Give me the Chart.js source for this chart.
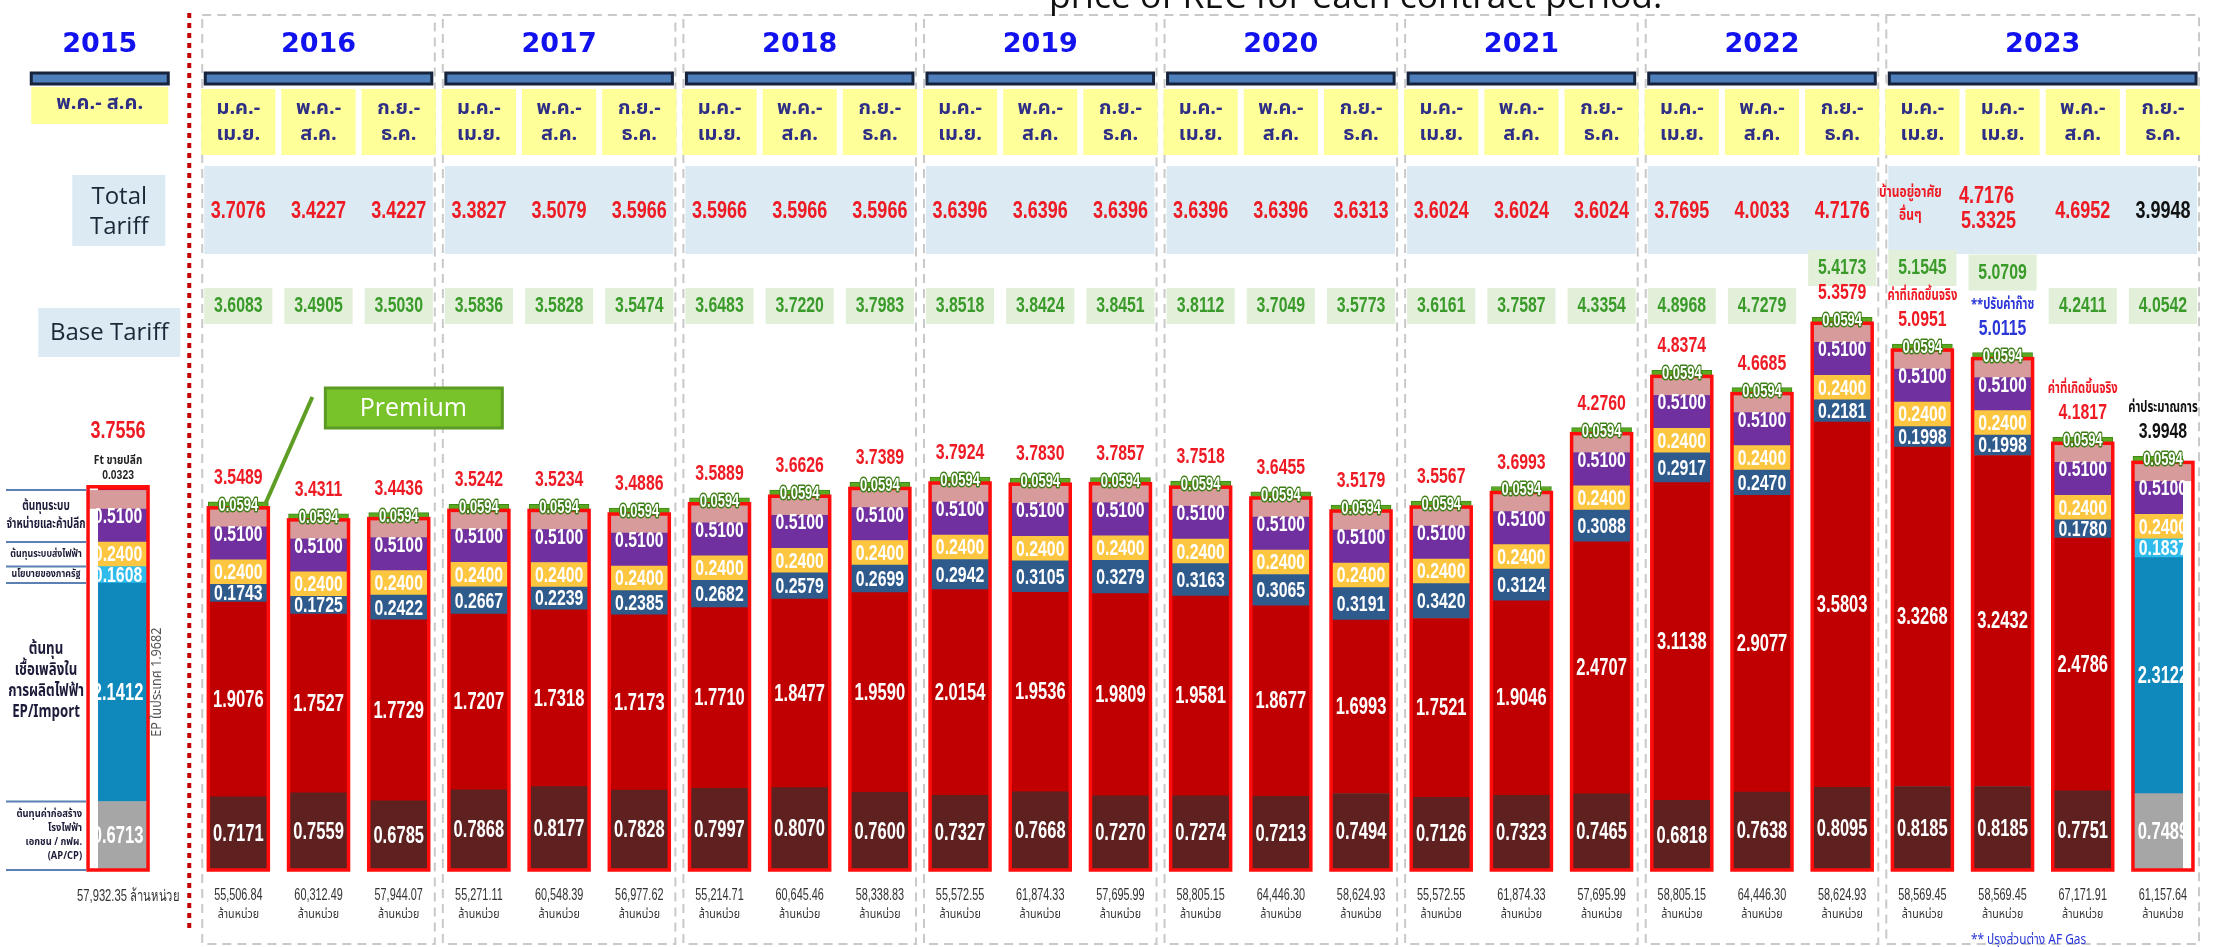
<!DOCTYPE html>
<html>
<head>
<meta charset="utf-8">
<script src="https://cdn.jsdelivr.net/npm/chart.js@4.4.0/dist/chart.umd.min.js"></script>
<style>
  html, body { margin: 0; padding: 0; background: #fff; }
  #wrap { width: 2234px; height: 947px; }
</style>
</head>
<body>
<div id="wrap"><canvas id="tariffChart" width="2234" height="947"></canvas></div>
<script>
// one entry per contract period (bar)
const years = ['2015', '2016', '2016', '2016', '2017', '2017', '2017', '2018', '2018', '2018',
  '2019', '2019', '2019', '2020', '2020', '2020', '2021', '2021', '2021', '2022', '2022', '2022',
  '2023', '2023', '2023', '2023'];
const periods = ['พ.ค.- ส.ค.',
  'ม.ค.-|เม.ย.', 'พ.ค.-|ส.ค.', 'ก.ย.-|ธ.ค.', 'ม.ค.-|เม.ย.', 'พ.ค.-|ส.ค.', 'ก.ย.-|ธ.ค.',
  'ม.ค.-|เม.ย.', 'พ.ค.-|ส.ค.', 'ก.ย.-|ธ.ค.', 'ม.ค.-|เม.ย.', 'พ.ค.-|ส.ค.', 'ก.ย.-|ธ.ค.',
  'ม.ค.-|เม.ย.', 'พ.ค.-|ส.ค.', 'ก.ย.-|ธ.ค.', 'ม.ค.-|เม.ย.', 'พ.ค.-|ส.ค.', 'ก.ย.-|ธ.ค.',
  'ม.ค.-|เม.ย.', 'พ.ค.-|ส.ค.', 'ก.ย.-|ธ.ค.', 'ม.ค.-|เม.ย.', 'ม.ค.-|เม.ย.', 'พ.ค.-|ส.ค.', 'ก.ย.-|ธ.ค.'];

const totalTariff = ['', '3.7076', '3.4227', '3.4227', '3.3827', '3.5079', '3.5966', '3.5966', '3.5966', '3.5966',
  '3.6396', '3.6396', '3.6396', '3.6396', '3.6396', '3.6313', '3.6024', '3.6024', '3.6024',
  '3.7695', '4.0033', '4.7176', 'บ้านอยู่อาศัย|อื่นๆ', '4.7176|5.3325', '4.6952', '3.9948'];
const baseTariff = ['', '3.6083', '3.4905', '3.5030', '3.5836', '3.5828', '3.5474', '3.6483', '3.7220', '3.7983',
  '3.8518', '3.8424', '3.8451', '3.8112', '3.7049', '3.5773', '3.6161', '3.7587', '4.3354',
  '4.8968', '4.7279', '5.4173', '5.1545', '5.0709', '4.2411', '4.0542'];
const barTotals = ['3.7556', '3.5489', '3.4311', '3.4436', '3.5242', '3.5234', '3.4886', '3.5889', '3.6626', '3.7389',
  '3.7924', '3.7830', '3.7857', '3.7518', '3.6455', '3.5179', '3.5567', '3.6993', '4.2760',
  '4.8374', '4.6685', '5.3579', '5.0951', '5.0115', '4.1817', '3.9948'];

// cost components (baht/unit), bottom to top
const apcp = [0.6713, 0.7171, 0.7559, 0.6785, 0.7868, 0.8177, 0.7828, 0.7997, 0.8070, 0.7600,
  0.7327, 0.7668, 0.7270, 0.7274, 0.7213, 0.7494, 0.7126, 0.7323, 0.7465,
  0.6818, 0.7638, 0.8095, 0.8185, 0.8185, 0.7751, 0.7489];
const fuel = [2.1412, 1.9076, 1.7527, 1.7729, 1.7207, 1.7318, 1.7173, 1.7710, 1.8477, 1.9590,
  2.0154, 1.9536, 1.9809, 1.9581, 1.8677, 1.6993, 1.7521, 1.9046, 2.4707,
  3.1138, 2.9077, 3.5803, 3.3268, 3.2432, 2.4786, 2.3122];
const policy = [0.1608, 0.1743, 0.1725, 0.2422, 0.2667, 0.2239, 0.2385, 0.2682, 0.2579, 0.2699,
  0.2942, 0.3105, 0.3279, 0.3163, 0.3065, 0.3191, 0.3420, 0.3124, 0.3088,
  0.2917, 0.2470, 0.2181, 0.1998, 0.1998, 0.1780, 0.1837];
const transmission = [0.24, 0.24, 0.24, 0.24, 0.24, 0.24, 0.24, 0.24, 0.24, 0.24, 0.24, 0.24, 0.24,
  0.24, 0.24, 0.24, 0.24, 0.24, 0.24, 0.24, 0.24, 0.24, 0.24, 0.24, 0.24, 0.24];
const distribution = [0.51, 0.51, 0.51, 0.51, 0.51, 0.51, 0.51, 0.51, 0.51, 0.51, 0.51, 0.51, 0.51,
  0.51, 0.51, 0.51, 0.51, 0.51, 0.51, 0.51, 0.51, 0.51, 0.51, 0.51, 0.51, 0.51];
const ftRetail = [0.0323, null, null, null, null, null, null, null, null, null, null, null, null,
  null, null, null, null, null, null, null, null, null, null, null, null, null];
const premium = [null, 0.0594, 0.0594, 0.0594, 0.0594, 0.0594, 0.0594, 0.0594, 0.0594, 0.0594,
  0.0594, 0.0594, 0.0594, 0.0594, 0.0594, 0.0594, 0.0594, 0.0594, 0.0594,
  0.0594, 0.0594, 0.0594, 0.0594, 0.0594, 0.0594, 0.0594];

const energyUnits = ['57,932.35', '55,506.84', '60,312.49', '57,944.07', '55,271.11', '60,548.39', '56,977.62',
  '55,214.71', '60,645.46', '58,338.83', '55,572.55', '61,874.33', '57,695.99',
  '58,805.15', '64,446.30', '58,624.93', '55,572.55', '61,874.33', '57,695.99',
  '58,805.15', '64,446.30', '58,624.93', '58,569.45', '58,569.45', '67,171.91', '61,157.64'];
const notesAbove = ['', '', '', '', '', '', '', '', '', '', '', '', '', '', '', '', '', '', '', '', '', '',
  'ค่าที่เกิดขึ้นจริง', '**ปรับค่าก๊าซ', 'ค่าที่เกิดขึ้นจริง', 'ค่าประมาณการ'];

const N = years.length;
const NUM = '"Liberation Sans", Arial, sans-serif';
const THAI = '"Noto Sans Thai", "Noto Sans Thai Looped", Loma, Garuda, Tahoma, "DejaVu Sans", sans-serif';
const SANS = '"Open Sans", "Noto Sans", sans-serif';

// category slots: 2015 stands apart (1.5 bar spacings), other periods every 2 half-slots
const slotOf = years.map((y, i) => i === 0 ? 0 : 2 * i + 1);
const nSlots = slotOf[N - 1] + 1;
const expand = arr => {
  const out = new Array(nSlots).fill(null);
  arr.forEach((v, i) => { out[slotOf[i]] = v; });
  return out;
};

// the 2015 bar and the 2023 estimate show the import/EP colour scheme
const importBar = i => i === 0 || i === N - 1;

function txt(ctx, s, x, y, font, color, align, sx, stroke) {
  ctx.save();
  ctx.font = font;
  ctx.textAlign = align || 'center';
  ctx.textBaseline = 'middle';
  ctx.translate(x, y);
  ctx.scale(sx || 1, 1);
  if (stroke) {
    ctx.lineWidth = 3;
    ctx.strokeStyle = stroke;
    ctx.lineJoin = 'round';
    ctx.strokeText(s, 0, 0);
  }
  ctx.fillStyle = color;
  ctx.fillText(s, 0, 0);
  ctx.restore();
}

function yearGroups() {
  const g = [];
  years.forEach((y, i) => {
    if (!g.length || g[g.length - 1].year !== y) g.push({ year: y, first: i, last: i });
    else g[g.length - 1].last = i;
  });
  return g;
}

const props = (chart, ds, i) => chart.getDatasetMeta(ds).data[slotOf[i]].getProps(['x', 'y', 'base', 'width'], true);
const colorFor = i => i === 23 ? '#2a36d8' : (i === 25 ? '#111111' : '#ee1b24');

function barTop(chart, i) {
  return i === 0 ? props(chart, 5, 0).y : props(chart, 6, i).y;
}

function layoutInfo(chart) {
  const sc = chart.scales.x;
  const cx = i => sc.getPixelForValue(slotOf[i]);
  const slot = cx(2) - cx(1);
  const groups = yearGroups();
  groups.forEach(g => {
    g.left = cx(g.first) - slot * 0.45;
    g.right = cx(g.last) + slot * 0.45;
  });
  const divider = groups[1].left - 13;
  groups[0].right = divider - 18;
  groups[0].left = groups[0].right - 143;
  return { cx, slot, groups, divider };
}

const backdrop = {
  id: 'backdrop',
  beforeDatasetsDraw(chart) {
    const ctx = chart.ctx;
    const { cx, slot, groups, divider } = layoutInfo(chart);
    ctx.save();

    groups.forEach(g => {
      const left = g.left, right = g.right;
      if (g.year !== '2015') {
        ctx.setLineDash([9, 6]);
        ctx.strokeStyle = '#c9c9c9';
        ctx.lineWidth = 2;
        ctx.strokeRect(left, 15, right - left, 929);
        ctx.setLineDash([]);
        ctx.fillStyle = '#dbeaf3';
        ctx.fillRect(left + 2, 166, right - left - 4, 88);
      }
      ctx.fillStyle = '#4f7fba';
      ctx.fillRect(left + 3, 73, right - left - 6, 11);
      ctx.strokeStyle = '#16233d';
      ctx.lineWidth = 3;
      ctx.strokeRect(left + 3, 73, right - left - 6, 11);
      txt(ctx, g.year, (left + right) / 2, 45, 'bold 27px "DejaVu Sans"', '#1212ee');
    });

    // red dotted divider between 2015 and the rest
    ctx.setLineDash([5, 5]);
    ctx.strokeStyle = '#c00000';
    ctx.lineWidth = 4;
    ctx.beginPath();
    ctx.moveTo(divider, 13);
    ctx.lineTo(divider, 930);
    ctx.stroke();
    ctx.setLineDash([]);

    // period boxes
    for (let i = 0; i < N; i++) {
      const p = periods[i].split('|');
      ctx.fillStyle = '#ffff99';
      if (i === 0) {
        const g = groups[0];
        ctx.fillRect(g.left + 3, 87, g.right - g.left - 6, 37);
        txt(ctx, p[0], (g.left + g.right) / 2, 105, 'bold 20px ' + THAI, '#2e2e86');
        continue;
      }
      ctx.fillRect(cx(i) - slot / 2 + 3, 89, slot - 6, 66);
      txt(ctx, p[0], cx(i), 110, 'bold 20px ' + THAI, '#2e2e86');
      txt(ctx, p[1], cx(i), 136, 'bold 20px ' + THAI, '#2e2e86');
    }

    // left header boxes
    ctx.fillStyle = '#dbeaf3';
    ctx.fillRect(divider - 117, 175, 93, 71);
    txt(ctx, 'Total', divider - 70, 197, '24px ' + SANS, '#1b2838');
    txt(ctx, 'Tariff', divider - 70, 227, '24px ' + SANS, '#1b2838');
    ctx.fillStyle = '#dbeaf3';
    ctx.fillRect(divider - 151, 308, 142, 49);
    txt(ctx, 'Base Tariff', divider - 80, 333, '24px ' + SANS, '#1b2838');

    // total tariff values
    for (let i = 0; i < N; i++) {
      const t = totalTariff[i];
      if (!t) continue;
      const parts = t.split('|');
      if (i === 22) {
        txt(ctx, parts[0], cx(i) - 12, 194, 'bold 15px ' + THAI, '#ee1b24', 'center', 0.8);
        txt(ctx, parts[1], cx(i) - 12, 217, 'bold 15px ' + THAI, '#ee1b24', 'center', 0.8);
      } else if (parts.length === 2) {
        txt(ctx, parts[0], cx(i) - 16, 196, 'bold 24px ' + NUM, '#ee1b24', 'center', 0.75);
        txt(ctx, parts[1], cx(i) - 14, 221, 'bold 24px ' + NUM, '#ee1b24', 'center', 0.75);
      } else {
        txt(ctx, t, cx(i), 211, 'bold 24px ' + NUM, i === N - 1 ? '#111111' : '#ee1b24', 'center', 0.75);
      }
    }

    // base tariff boxes
    for (let i = 0; i < N; i++) {
      if (!baseTariff[i]) continue;
      const labelY = barTop(chart, i) - 24;
      const above = notesAbove[i] ? labelY - 23 : labelY;
      const y = Math.max(268, Math.min(306, above - 33));
      ctx.fillStyle = '#e2f0d9';
      ctx.fillRect(cx(i) - slot / 2 + 6, y - 18, slot - 12, 36);
      txt(ctx, baseTariff[i], cx(i), y, 'bold 22px ' + NUM, '#3a9a2a', 'center', 0.72);
    }
    ctx.restore();
  },

  afterDatasetsDraw(chart) {
    const ctx = chart.ctx;
    ctx.save();

    // pink cap on the distribution block, then red frame round each bar
    for (let i = 0; i < N; i++) {
      const d = props(chart, 4, i);
      ctx.fillStyle = '#d89b9b';
      ctx.fillRect(d.x - d.width / 2, d.y, d.width, (d.base - d.y) * 0.36);
    }
    for (let i = 0; i < N; i++) {
      const b = props(chart, 0, i);
      const top = i === 0 ? props(chart, 5, 0).y : props(chart, 4, i).y;
      ctx.strokeStyle = '#ff0d0d';
      ctx.lineWidth = 3.5;
      ctx.strokeRect(b.x - b.width / 2, top, b.width, b.base - top);
    }

    // values inside the segments
    const fonts = ['bold 23px ', 'bold 23px ', 'bold 22px ', 'bold 22px ', 'bold 22px ', null, 'bold 18px '];
    [apcp, fuel, policy, transmission, distribution, ftRetail, premium].forEach((arr, k) => {
      if (!fonts[k]) return;
      arr.forEach((v, i) => {
        if (v === null) return;
        const p = props(chart, k, i);
        const y = (p.y + p.base) / 2 + 1;
        txt(ctx, v.toFixed(4), p.x, y, fonts[k] + NUM, '#ffffff', 'center', 0.72, k === 6 ? '#3f7f19' : null);
      });
    });

    // totals above bars
    for (let i = 0; i < N; i++) {
      const top = barTop(chart, i);
      const x = props(chart, 0, i).x;
      if (i === 0) {
        txt(ctx, barTotals[0], x, top - 55, 'bold 24px ' + NUM, '#ee1b24', 'center', 0.75);
        txt(ctx, 'Ft ขายปลีก', x, top - 25, 'bold 12px ' + THAI, '#222222', 'center', 0.85);
        txt(ctx, ftRetail[0].toFixed(4), x, top - 11, 'bold 13px ' + NUM, '#222222', 'center', 0.8);
        continue;
      }
      const labelY = top - 24;
      txt(ctx, barTotals[i], x, labelY, 'bold 22px ' + NUM, colorFor(i), 'center', 0.72);
      if (notesAbove[i]) txt(ctx, notesAbove[i], x, labelY - 23, 'bold 15px ' + THAI, colorFor(i), 'center', 0.75);
    }

    // left legend for the cost components (aligned with the 2015 bar)
    const a = props(chart, 0, 0), b = props(chart, 1, 0), c = props(chart, 2, 0),
      d = props(chart, 3, 0), f = props(chart, 4, 0);
    const lx0 = 6, lx1 = a.x - a.width / 2 - 2;
    const lmid = (lx0 + lx1) / 2;
    ctx.strokeStyle = '#5b80b4';
    ctx.lineWidth = 2;
    [f.y, d.y, c.y, b.y, a.y, a.base].forEach(y => {
      ctx.beginPath();
      ctx.moveTo(lx0, y);
      ctx.lineTo(lx1, y);
      ctx.stroke();
    });
    const block = (lines, x, yc, font, lh, align, sx) => {
      const y0 = yc - (lines.length - 1) * lh / 2;
      lines.forEach((s, j) => txt(ctx, s, x, y0 + j * lh, font, '#1c1c3a', align, sx));
    };
    block(['ต้นทุนระบบ', 'จำหน่ายและค้าปลีก'], lmid, (f.y + d.y) / 2, 'bold 14px ' + THAI, 18, 'center', 0.72);
    block(['ต้นทุนระบบส่งไฟฟ้า'], lmid, (d.y + c.y) / 2, 'bold 11px ' + THAI, 12, 'center', 0.8);
    block(['นโยบายของภาครัฐ'], lmid, (c.y + b.y) / 2, 'bold 11px ' + THAI, 12, 'center', 0.8);
    block(['ต้นทุน', 'เชื้อเพลิงใน', 'การผลิตไฟฟ้า', 'EP/Import'], lmid, (b.y + a.y) / 2 - 10, 'bold 17px ' + THAI, 21, 'center', 0.78);
    block(['ต้นทุนค่าก่อสร้าง', 'โรงไฟฟ้า', 'เอกชน / กฟผ.', '(AP/CP)'], lx1 - 4, (a.y + a.base) / 2, 'bold 11px ' + THAI, 14, 'right', 0.85);

    // rotated note next to the 2015 bar
    ctx.save();
    ctx.translate(a.x + a.width / 2 + 10, (b.y + a.y) / 2 - 10);
    ctx.rotate(-Math.PI / 2);
    txt(ctx, 'EP ในประเทศ 1.9682', 0, 0, '14px ' + THAI, '#555555', 'center', 0.9);
    ctx.restore();

    // premium callout
    const pr = props(chart, 6, 1);
    const bx = pr.x + 87, by = 388;
    ctx.strokeStyle = '#5f9e25';
    ctx.lineWidth = 4;
    ctx.beginPath();
    ctx.moveTo(bx - 13, by + 9);
    ctx.lineTo(pr.x + pr.width / 2 - 3, pr.y + 2);
    ctx.stroke();
    ctx.fillStyle = '#78c22a';
    ctx.fillRect(bx, by, 177, 40);
    ctx.lineWidth = 3;
    ctx.strokeStyle = '#5b9b23';
    ctx.strokeRect(bx, by, 177, 40);
    txt(ctx, 'Premium', bx + 88, by + 21, '25px ' + SANS, '#ffffff');

    // energy sold under each bar
    for (let i = 0; i < N; i++) {
      const x = props(chart, 0, i).x;
      if (i === 0) {
        txt(ctx, energyUnits[0] + ' ล้านหน่วย', x + 10, 897, '16px ' + NUM, '#333333', 'center', 0.7);
        continue;
      }
      txt(ctx, energyUnits[i], x, 896, '16px ' + NUM, '#333333', 'center', 0.68);
      txt(ctx, 'ล้านหน่วย', x, 915, '13px ' + THAI, '#333333', 'center', 0.82);
    }

    // footnote and clipped title
    txt(ctx, '** ปรุงส่วนต่าง AF Gas', props(chart, 0, 23).x + 26, 941, '14px ' + THAI, '#2a36d8', 'center', 0.85);
    ctx.font = '32px ' + SANS;
    const title = 'price of REC for each contract period.';
    const w = ctx.measureText(title).width;
    ctx.font = (32 * 614 / w).toFixed(1) + 'px ' + SANS;
    ctx.fillStyle = '#111111';
    ctx.textAlign = 'left';
    ctx.textBaseline = 'alphabetic';
    ctx.fillText(title, 1049, 8);

    ctx.restore();
  }
};

const barColors = fn => expand(years.map((y, i) => fn(i)));

new Chart(document.getElementById('tariffChart'), {
  type: 'bar',
  data: {
    labels: expand(periods).map(p => p || ''),
    datasets: [
      { label: 'AP/CP', data: expand(apcp), backgroundColor: barColors(i => importBar(i) ? '#a6a6a6' : '#5f2120') },
      { label: 'EP/Import', data: expand(fuel), backgroundColor: barColors(i => importBar(i) ? '#0f88bb' : '#c00000') },
      { label: 'Policy', data: expand(policy), backgroundColor: barColors(i => importBar(i) ? '#2fbcec' : '#2e5b8c') },
      { label: 'Transmission', data: expand(transmission), backgroundColor: '#fdc641' },
      { label: 'Distribution & retail', data: expand(distribution), backgroundColor: '#7030a0' },
      { label: 'Ft', data: expand(ftRetail), backgroundColor: '#ff0000' },
      { label: 'Premium', data: expand(premium), backgroundColor: '#5ba821', borderColor: '#3f8a17', borderWidth: 1 }
    ]
  },
  options: {
    responsive: false,
    animation: false,
    layout: { padding: { left: 98, right: 51, top: 20, bottom: 77 } },
    plugins: { legend: { display: false }, tooltip: { enabled: false } },
    datasets: { bar: { barThickness: 60 } },
    scales: {
      x: { stacked: true, display: false },
      y: { stacked: true, display: false, min: 0, max: 8.33 }
    }
  },
  plugins: [backdrop]
});
</script>
</body>
</html>
